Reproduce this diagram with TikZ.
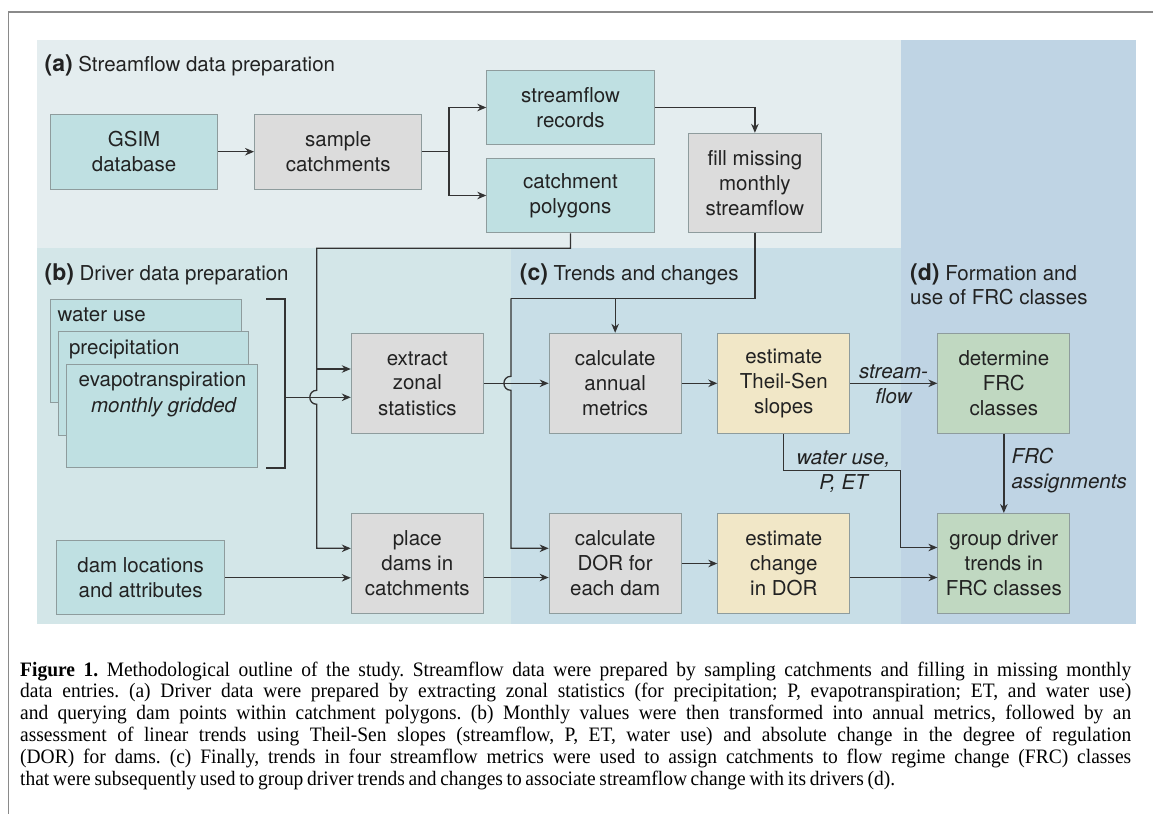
\documentclass[tikz,border=0pt]{standalone}
\usepackage{fontspec}
\setmainfont{TeX Gyre Heros}
\newfontfamily\capfont[FakeStretch=0.95,WordSpace=0.75]{Liberation Serif}
\usetikzlibrary{arrows.meta}
\definecolor{bga}{HTML}{E4EDEF}
\definecolor{bgb}{HTML}{D3E6E8}
\definecolor{bgc}{HTML}{C8DEE7}
\definecolor{bgd}{HTML}{BFD4E4}
\definecolor{tealc}{HTML}{BFE0E2}
\definecolor{grayc}{HTML}{DCDCDC}
\definecolor{yelc}{HTML}{F1E7C7}
\definecolor{grnc}{HTML}{C0D8C1}
\definecolor{boxline}{HTML}{8E9C9D}
\definecolor{linec}{HTML}{333333}
\definecolor{txtc}{HTML}{222222}
\definecolor{framec}{HTML}{8A8A8A}
\newcommand{\dfont}{\fontsize{20.5}{25}\selectfont}
\newcommand{\seclab}[1]{{\fontsize{23}{25}\selectfont\bfseries(#1)}}
\begin{document}
\begin{tikzpicture}[x=1pt,y=-1pt,
  box/.style={draw=boxline, line width=1pt, inner sep=0pt, align=center, text=txtc, font=\dfont},
  tealbox/.style={box, fill=tealc},
  graybox/.style={box, fill=grayc},
  yelbox/.style={box, fill=yelc},
  grnbox/.style={box, fill=grnc},
  wide/.style={minimum width=167.4pt, minimum height=74.7pt},
  sq/.style={minimum width=132pt, minimum height=100pt},
  conn/.style={draw=linec, line width=1.3pt},
  arr/.style={conn, -{Stealth[length=9pt,width=7.5pt]}},
  lab/.style={inner sep=0pt, text=txtc, font=\dfont},
  ilab/.style={lab, font=\dfont\itshape, align=center},
]
\useasboundingbox (0,0) rectangle (1153,814);
% backgrounds
\fill[bga] (36.7,40) rectangle (901,248.3);
\fill[bgd] (901,40) rectangle (1135.8,624.3);
\fill[bgb] (36.7,248.3) rectangle (510.9,624.3);
\fill[bgc] (510.9,248.3) rectangle (901,624.3);
% frame
\draw[framec, line width=1.2pt] (1153,12) -- (8.6,12) -- (8.6,814);

% section labels
\node[lab, anchor=base west] (la) at (44.4,71.3) {\seclab{a} Streamflow data preparation};
\node[lab, anchor=base west] (lb) at (44.4,280.7) {\seclab{b} Driver data preparation};
\node[lab, anchor=base west] (lc) at (519.7,280.7) {\seclab{c} Trends and changes};
\node[lab, anchor=base west] (ld1) at (910,280.7) {\seclab{d} Formation and};
\node[lab, anchor=base west] (ld2) at (910,304.7) {use of FRC classes};

% (a) boxes
\node[tealbox, wide] (gsim) at (134.1,151.7) {GSIM\\database};
\node[graybox, wide] (sample) at (338.25,151.7) {sample\\catchments};
\node[tealbox, wide] (records) at (570.5,107.5) {streamflow\\records};
\node[tealbox, wide] (polygons) at (570.5,195.5) {catchment\\polygons};
\node[graybox, minimum width=132.2pt, minimum height=99.4pt] (fill) at (754.9,183) {fill missing\\monthly\\streamflow};

% (b) boxes
\node[tealbox, minimum width=190.6pt, minimum height=103.7pt] (water) at (145.8,350.85) {};
\node[tealbox, minimum width=190.5pt, minimum height=104pt] (precip) at (153.45,383) {};
\node[tealbox, minimum width=191pt, minimum height=103.5pt] (evapo) at (161.7,415.85) {};
\node[lab, anchor=base west] (twater) at (57.4,321.5) {water use};
\node[lab, anchor=base west] (tprecip) at (68.9,354.5) {precipitation};
\node[lab, anchor=base] (tevapo) at (162.5,386.5) {evapotranspiration};
\node[lab, anchor=base, font=\dfont\itshape] (tmonthly) at (163.6,412) {monthly gridded};
\node[tealbox, minimum width=168pt, minimum height=74.3pt] (dam) at (140.6,577.8) {dam locations\\and attributes};
\node[graybox, sq] (extract) at (417.3,383.3) {extract\\zonal\\statistics};
\node[graybox, sq] (place) at (417.3,563.5) {place\\dams in\\catchments};

% (c) boxes
\node[graybox, sq] (annual) at (615.15,383.3) {calculate\\annual\\metrics};
\node[graybox, sq] (dor) at (615.15,563.5) {calculate\\DOR for\\each dam};
\node[yelbox, sq] (theil) at (783.8,383.3) {estimate\\Theil-Sen\\slopes};
\node[yelbox, sq] (change) at (783.8,563.5) {estimate\\change\\in DOR};

% (d) boxes
\node[grnbox, sq] (determine) at (1003.85,383.3) {determine\\FRC\\classes};
\node[grnbox, sq] (group) at (1003.85,563.5) {group driver\\trends in\\FRC classes};

% bracket
\draw[linec, line width=2pt] (266,299) -- (285.1,299) -- (285.1,467.7) -- (266,467.7);
\coordinate (brk) at (285.1,397.3);

% coordinates
\coordinate (sp) at (448.9,151.7);
\coordinate (c1) at (316.8,248.3);
\coordinate (j1) at (316.8,369);
\coordinate (c2) at (510.9,298.3);
\coordinate (c3) at (615.15,298.3);
\coordinate (c4) at (900.8,470.3);

% connectors (a)
\draw[arr] (gsim.east) -- (sample.west);
\draw[arr] (sample.east) -- (sp) |- (records.west);
\draw[arr] (sp) |- (polygons.west);
\draw[arr] (records.east) -| (fill.north);

% polygons -> extract / place
\draw[arr] (polygons.south) |- (c1) -- (316.8,390.3)
  .. controls (307.5,390.3) and (307.5,404.3) .. (316.8,404.3)
  |- ([yshift=15.2pt]place.west);
\draw[arr] (j1) -- (j1 -| extract.west);
\draw[arr] (brk) -- (brk -| extract.west);

% fill -> annual / dor
\draw[conn] (fill.south) |- (c2);
\draw[arr] (c2) -- (510.9,376.3)
  .. controls (501.6,376.3) and (501.6,390.3) .. (510.9,390.3)
  |- ([yshift=15.2pt]dor.west);
\draw[arr] (c3) -- (annual.north);

\draw[arr] (extract.east) -- (annual.west);
\draw[arr] (dam.east) -- (dam.east -| place.west);
\draw[arr] ([yshift=-14pt]place.east) -- ([yshift=-14pt]dor.west);
\draw[arr] (annual.east) -- (theil.west);
\draw[arr] (dor.east) -- (change.west);
\draw[arr] (theil.east) -- (determine.west);
\draw[arr] ([yshift=-14pt]change.east) -- ([yshift=-14pt]group.west);
\draw[arr] (theil.south) |- (c4) |- ([yshift=16pt]group.west);
\draw[arr] (determine.south) -- (group.north);

% connector labels
\node[ilab] (lsf) at (893.5,384) {stream-\\flow};
\node[ilab] (lwu) at (843.5,472) {water use,\\P, ET};
\node[ilab, align=left, anchor=west] (lfrc) at (1011.5,470.3) {FRC\\assignments};

% caption
\node[anchor=north west, text width=1111pt, align=justify, inner sep=0pt, text=black,
  font=\capfont\fontsize{20.5}{21.8}\selectfont\frenchspacing] (cap) at (20,661.5) {%
\textbf{Figure 1.} Methodological outline of the study. Streamflow data were prepared by sampling catchments and filling in missing monthly\linebreak
data entries. (a) Driver data were prepared by extracting zonal statistics (for precipitation; P, evapotranspiration; ET, and water use)\linebreak
and querying dam points within catchment polygons. (b) Monthly values were then transformed into annual metrics, followed by an\linebreak
assessment of linear trends using Theil-Sen slopes (streamflow, P, ET, water use) and absolute change in the degree of regulation\linebreak
(DOR) for dams. (c) Finally, trends in four streamflow metrics were used to assign catchments to flow regime change (FRC) classes\linebreak
that were subsequently used to group driver trends and changes to associate streamflow change with its drivers (d).};
\end{tikzpicture}
\end{document}
